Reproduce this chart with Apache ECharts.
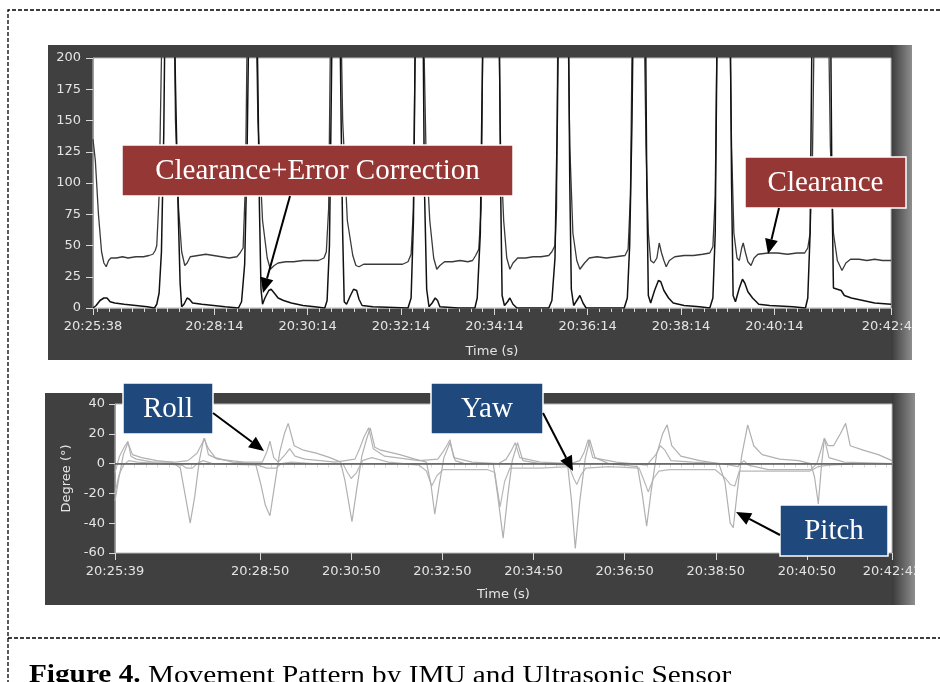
<!DOCTYPE html>
<html>
<head>
<meta charset="utf-8">
<script src="https://cdn.jsdelivr.net/npm/echarts@6.0.0/dist/echarts.min.js"></script>
<style>html,body{margin:0;padding:0;background:#fff}#chart{width:940px;height:682px}</style>
</head>
<body>
<div id="chart"></div>
<script>
// time values are seconds after the first timestamp of each plot
var topStart = '20:25:38';
var topEnd = 1026;   // 20:42:44
var topLabels = [0, 156, 276, 396, 516, 636, 756, 876, 1026];
var botStart = '20:25:39';
var botEnd = 1023;   // 20:42:42
var botLabels = [0, 191, 311, 431, 551, 671, 791, 911, 1023];

// ultrasonic distance (cm), spikes run off the top of the plot
var clearance = [[0,135],[3,118],[7,75],[11,45],[14,36],[17,33],[20,38],[23,40],[30,40],[38,41],[45,40],[55,41],[65,41],[72,42],[77,43],[80,46],[82,50],[85,90],[88,200],[90,260],[104,260],[106,150],[110,80],[114,45],[118,34],[121,36],[125,41],[135,42],[145,43],[155,42],[165,41],[175,40],[185,41],[189,44],[193,48],[196,100],[199,260],[209,260],[212,150],[218,70],[224,40],[228,31],[233,34],[238,36],[248,37],[258,37],[270,38],[280,38],[290,38],[297,40],[300,45],[303,80],[306,260],[318,260],[321,150],[327,70],[334,42],[338,34],[342,33],[348,35],[360,35],[372,35],[385,35],[398,35],[405,37],[409,43],[412,80],[415,260],[424,260],[428,130],[433,70],[438,40],[442,31],[446,34],[452,37],[462,37],[472,38],[482,37],[488,38],[492,42],[496,47],[499,80],[502,260],[521,260],[524,130],[528,70],[532,40],[536,31],[540,36],[546,40],[556,40],[566,41],[576,41],[586,42],[590,45],[594,50],[596,80],[598,260],[610,260],[613,130],[617,60],[622,38],[626,31],[632,36],[638,40],[648,41],[660,40],[672,41],[684,42],[688,47],[691,90],[694,260],[708,260],[711,130],[714,60],[717,38],[721,36],[725,40],[728,52],[731,44],[734,38],[737,33],[741,38],[748,41],[760,42],[772,42],[784,43],[793,44],[797,49],[800,90],[803,260],[818,260],[821,130],[824,60],[828,40],[831,38],[834,48],[836,52],[839,44],[842,37],[846,34],[850,40],[855,43],[868,44],[880,44],[893,43],[905,44],[915,44],[919,48],[922,60],[925,120],[928,260],[945,260],[948,130],[952,60],[957,38],[963,30],[968,36],[974,39],[985,39],[995,38],[1005,39],[1015,38],[1026,38]];
var corrected = [[0,0],[4,2],[9,6],[14,8],[18,8],[22,5],[28,4],[40,3],[55,2],[70,1],[79,0],[82,3],[85,12],[88,45],[91,140],[93,260],[104,260],[106,180],[109,90],[112,20],[114,1],[117,3],[121,8],[124,7],[128,4],[140,3],[155,2],[170,1],[187,0],[191,5],[195,35],[198,120],[201,260],[210,260],[212,180],[214,80],[216,15],[218,3],[221,8],[226,14],[229,15],[233,12],[238,8],[245,6],[255,4],[270,2],[285,1],[298,0],[301,6],[304,50],[306,150],[308,260],[317,260],[319,150],[321,60],[323,5],[326,3],[331,10],[335,15],[339,14],[342,7],[346,2],[360,1],[405,0],[409,8],[412,70],[415,260],[424,260],[426,100],[429,15],[432,1],[436,4],[440,8],[443,6],[446,1],[470,0],[491,0],[494,8],[498,60],[502,260],[522,260],[524,100],[526,10],[529,2],[533,5],[536,8],[540,3],[545,0],[586,0],[590,6],[594,40],[597,150],[599,260],[611,260],[613,100],[615,15],[618,2],[622,6],[626,10],[630,4],[634,0],[683,0],[687,8],[690,50],[693,150],[695,260],[710,260],[712,100],[714,10],[717,4],[722,14],[727,22],[730,21],[734,14],[740,8],[746,4],[760,2],[780,1],[793,0],[797,8],[800,60],[803,260],[819,260],[821,100],[823,10],[826,5],[831,16],[835,23],[838,20],[842,13],[848,8],[856,3],[870,2],[900,1],[916,0],[919,8],[922,60],[925,260],[948,260],[950,100],[952,16],[957,15],[962,14],[966,10],[975,8],[990,6],[1005,4],[1026,3]];

// IMU angles (degrees)
var pitch = [[0,-25],[5,-10],[11,6],[17,14],[23,6],[35,4],[55,2],[75,1],[86,-3],[92,-20],[99,-40],[105,-22],[111,2],[117,17],[123,10],[132,4],[155,1],[185,0],[192,-14],[198,-28],[204,-35],[210,-15],[217,8],[223,20],[228,27],[236,12],[248,9],[265,7],[283,4],[297,1],[303,-12],[312,-39],[318,-18],[325,5],[331,16],[336,24],[342,11],[350,9],[375,6],[395,3],[410,1],[416,-14],[421,-34],[427,-14],[433,4],[441,14],[448,2],[460,0],[498,0],[504,-22],[511,-50],[517,-22],[523,2],[530,14],[537,2],[560,0],[596,-1],[601,-25],[606,-57],[612,-25],[619,3],[625,16],[632,4],[650,0],[688,-2],[694,-20],[700,-42],[706,-18],[713,6],[721,20],[727,26],[733,12],[745,5],[770,2],[795,0],[803,-12],[810,-40],[814,-43],[819,-20],[825,5],[833,26],[841,12],[852,6],[875,3],[900,2],[916,0],[921,-9],[926,-27],[930,-2],[934,17],[939,12],[946,12],[955,20],[962,27],[968,12],[985,9],[1005,6],[1023,2]];
var roll = [[0,-6],[6,5],[12,11],[17,15],[21,5],[28,3],[50,1],[80,1],[96,2],[108,7],[114,13],[118,17],[123,6],[135,3],[170,1],[194,1],[200,8],[204,15],[209,4],[215,1],[224,6],[230,10],[237,5],[250,3],[290,1],[316,3],[322,10],[328,18],[334,24],[340,10],[355,5],[400,2],[425,3],[432,8],[438,13],[441,16],[446,4],[470,1],[505,0],[515,3],[521,8],[527,14],[533,4],[560,1],[600,0],[612,2],[618,8],[623,16],[629,4],[660,1],[700,-1],[712,6],[718,12],[724,9],[732,2],[760,1],[800,0],[820,-2],[828,2],[834,-1],[860,-4],[890,-4],[916,-4],[924,0],[930,10],[934,17],[940,4],[960,1],[1023,0]];
var yaw = [[0,-20],[5,-8],[11,-1],[18,2],[30,1],[60,0],[88,-1],[94,-3],[102,-3],[108,0],[116,2],[128,0],[188,-1],[200,-3],[212,-3],[219,0],[232,1],[260,0],[300,0],[305,-5],[311,-10],[318,-6],[326,2],[338,4],[360,1],[400,-1],[410,-5],[417,-15],[424,-8],[432,-4],[450,-4],[490,-4],[500,-6],[507,-29],[513,-12],[520,-3],[560,-3],[598,-2],[604,-10],[608,-14],[614,-7],[620,-3],[650,-2],[690,-3],[697,-12],[702,-19],[709,-10],[716,-5],[730,-4],[790,-4],[804,-10],[810,-14],[816,-15],[822,-5],[832,-5],[870,-5],[915,-5],[926,-2],[940,-1],[980,0],[1023,0]];

function clock(start, off) {
  var p = start.split(':');
  var s = (+p[0]) * 3600 + (+p[1]) * 60 + (+p[2]) + Math.round(off);
  function two(n) { return (n < 10 ? '0' : '') + n; }
  return two(Math.floor(s / 3600)) + ':' + two(Math.floor(s % 3600 / 60)) + ':' + two(s % 60);
}
function every15(first, end) {
  var out = [];
  for (var t = first; t < end; t += 15) out.push(t);
  return out;
}

var axisFont = 'DejaVu Sans';
var light = '#e4e4e4';

function timeAxis(grid, start, end, labels, ticks, gap) {
  return [{
    gridIndex: grid, type: 'value', min: 0, max: end,
    axisLine: { show: true, lineStyle: { color: '#a0a0a0' } },
    axisTick: { show: true, customValues: ticks, length: 4, lineStyle: { color: '#d8d8d8' } },
    axisLabel: {
      customValues: labels, color: light, fontFamily: axisFont, fontSize: 13, margin: 12,
      formatter: function (v) { return clock(start, v); }
    },
    splitLine: { show: false },
    name: 'Time (s)', nameLocation: 'middle', nameGap: gap,
    nameTextStyle: { color: light, fontFamily: axisFont, fontSize: 13 }
  }, {
    gridIndex: grid, type: 'value', min: 0, max: end, position: 'bottom',
    axisLine: { show: false },
    axisTick: { show: true, customValues: labels, length: 7, lineStyle: { color: '#d8d8d8' } },
    axisLabel: { show: false }, splitLine: { show: false }
  }];
}

function arrow(x1, y1, x2, y2) {
  var dx = x2 - x1, dy = y2 - y1, L = Math.sqrt(dx * dx + dy * dy);
  var ux = dx / L, uy = dy / L, hl = 15, hw = 6.5;
  var bx = x2 - ux * hl, by = y2 - uy * hl;
  return [
    { type: 'line', z: 100, shape: { x1: x1, y1: y1, x2: bx, y2: by }, style: { stroke: '#000', lineWidth: 2 } },
    { type: 'polygon', z: 100, shape: { points: [[x2, y2], [bx - uy * hw, by + ux * hw], [bx + uy * hw, by - ux * hw]] }, style: { fill: '#000' } }
  ];
}
function box(x, y, w, h, fill, text) {
  return [
    { type: 'rect', z: 100, shape: { x: x, y: y, width: w, height: h }, style: { fill: fill, stroke: '#fff', lineWidth: 1.5 } },
    { type: 'text', z: 101, x: x + w / 2, y: y + h / 2 + 1,
      style: { text: text, fill: '#fff', font: '29px "Liberation Serif"', align: 'center', verticalAlign: 'middle' } }
  ];
}

var red = '#953735', blue = '#1f497d';
var edge = function () {
  return { type: 'linear', x: 0, y: 0, x2: 1, y2: 0,
    colorStops: [{ offset: 0, color: '#3a3a3a' }, { offset: 1, color: '#8e8e8e' }] };
};

var graphics = [
  // dashed frame
  { type: 'polyline', shape: { points: [[940, 10], [8, 10], [8, 682]] }, style: { stroke: '#000', lineWidth: 1.3, lineDash: [4, 2], fill: null } },
  { type: 'line', shape: { x1: 8, y1: 638, x2: 940, y2: 638 }, style: { stroke: '#000', lineWidth: 1.3, lineDash: [4, 2] } },
  // dark instrument panels
  { type: 'rect', z: -10, shape: { x: 48, y: 45, width: 845, height: 315 }, style: { fill: '#404040' } },
  { type: 'rect', z: -10, shape: { x: 891, y: 45, width: 21, height: 315 }, style: { fill: edge() } },
  { type: 'rect', z: -10, shape: { x: 45, y: 393, width: 849, height: 212 }, style: { fill: '#404040' } },
  { type: 'rect', z: -10, shape: { x: 892, y: 393, width: 23, height: 212 }, style: { fill: edge() } },
  // crop of the last tick labels at the panel edge
  { type: 'rect', z: 90, shape: { x: 912, y: 300, width: 28, height: 70 }, style: { fill: '#fff' } },
  { type: 'rect', z: 90, shape: { x: 915, y: 550, width: 25, height: 60 }, style: { fill: '#fff' } },
  // caption
  { type: 'text', x: 29, y: 676, scaleX: 1.17,
    style: { text: '{b|Figure 4.} Movement Pattern by IMU and Ultrasonic Sensor', font: '25px "Liberation Serif"', fill: '#000', verticalAlign: 'middle',
      rich: { b: { font: 'bold 25px "Liberation Serif"', fill: '#000' } } } }
];
graphics = graphics
  .concat(box(122, 145, 391, 51, red, 'Clearance+Error Correction'))
  .concat(arrow(290, 196, 263, 293))
  .concat(box(745, 157, 161, 51, red, 'Clearance'))
  .concat(arrow(779, 208, 768, 254))
  .concat(box(123, 383, 90, 51, blue, 'Roll'))
  .concat(arrow(213, 413, 264, 451))
  .concat(box(431, 383, 112, 51, blue, 'Yaw'))
  .concat(arrow(543, 413, 573, 471))
  .concat(box(780, 505, 108, 51, blue, 'Pitch'))
  .concat(arrow(780, 535, 736, 512));

function trace(name, data, axis, color, width, extra) {
  var s = {
    name: name, type: 'line', data: data, xAxisIndex: axis, yAxisIndex: axis > 1 ? 1 : 0,
    symbol: 'none', animation: false, clip: true,
    lineStyle: { color: color, width: width }
  };
  for (var k in extra) s[k] = extra[k];
  return s;
}

var myChart = echarts.init(document.getElementById('chart'));
var option = {
  backgroundColor: '#fff',
  animation: false,
  grid: [
    { left: 93, right: 49, top: 58, height: 250, show: true, backgroundColor: '#fff', borderColor: '#b8b8b8', borderWidth: 1 },
    { left: 115, right: 48, top: 404, height: 149, show: true, backgroundColor: '#fff', borderColor: '#b8b8b8', borderWidth: 1 }
  ],
  xAxis: timeAxis(0, topStart, topEnd, topLabels, every15(6, topEnd), 37)
    .concat(timeAxis(1, botStart, botEnd, botLabels, every15(11, botEnd), 35)),
  yAxis: [
    { gridIndex: 0, type: 'value', min: 0, max: 200, interval: 25,
      axisLine: { show: true, lineStyle: { color: '#a0a0a0' } },
      axisTick: { show: true, length: 7, lineStyle: { color: '#d8d8d8' } },
      axisLabel: { color: light, fontFamily: axisFont, fontSize: 13, margin: 12 },
      splitLine: { show: false } },
    { gridIndex: 1, type: 'value', min: -60, max: 40, interval: 20,
      axisLine: { show: true, lineStyle: { color: '#a0a0a0' } },
      axisTick: { show: true, length: 6, lineStyle: { color: '#d8d8d8' } },
      axisLabel: { color: light, fontFamily: axisFont, fontSize: 13, margin: 10 },
      splitLine: { show: false },
      name: 'Degree (°)', nameLocation: 'middle', nameGap: 40, nameRotate: 90,
      nameTextStyle: { color: light, fontFamily: axisFont, fontSize: 13 } }
  ],
  graphic: { elements: graphics },
  series: [
    trace('Clearance', clearance, 0, '#3a3a3a', 1.3),
    trace('Clearance+Error Correction', corrected, 0, '#111', 1.5),
    trace('Yaw', yaw, 2, '#b8b8b8', 1.2, {
      markLine: { silent: true, symbol: 'none', label: { show: false },
        lineStyle: { color: '#5a5a5a', width: 1.6, type: 'solid' }, data: [{ yAxis: 0 }] }
    }),
    trace('Roll', roll, 2, '#b4b4b4', 1.2),
    trace('Pitch', pitch, 2, '#b0b0b0', 1.2)
  ]
};
if (option && typeof option === 'object') {
  myChart.setOption(option);
}
</script>
</body>
</html>
